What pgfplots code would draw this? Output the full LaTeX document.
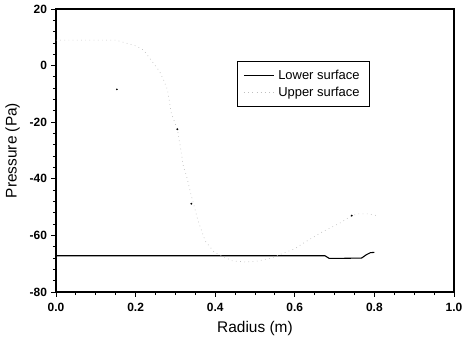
\documentclass[border=0pt]{standalone}
\usepackage{pgfplots}
\pgfplotsset{compat=1.18}
\usepackage{fontspec}
\setmainfont{Liberation Sans}
\begin{document}
\begin{tikzpicture}
\begin{axis}[
  at={(0,0)}, anchor=south west,
  scale only axis, width=398bp, height=283bp,
  xmin=0, xmax=1, ymin=-80, ymax=20,
  xtick={0,0.2,...,1.0}, ytick={-80,-60,...,20},
  minor x tick num=3, minor y tick num=4,
  tick align=outside, axis x line*=box, axis y line*=box,
  xtick pos=bottom, ytick pos=left,
  major tick length=4.5bp, minor tick length=3bp,
  every tick/.style={black, line width=0.9pt},
  axis line style={line width=1.2pt},
  /pgf/number format/assume math mode=true,
  xticklabel style={font=\bfseries\fontsize{12}{13}\selectfont, yshift=-3bp, /pgf/number format/.cd, fixed, fixed zerofill, precision=1},
  yticklabel style={font=\bfseries\fontsize{12}{13}\selectfont, xshift=-1bp},
  xlabel={Radius (m)}, ylabel={Pressure (Pa)},
  label style={font=\fontsize{15.5}{17}\selectfont},
  xlabel style={yshift=-3bp},
  ylabel style={yshift=3bp},
  legend style={at={(0.455,0.817)}, anchor=north west, draw=black, line width=0.7pt,
    font=\fontsize{13}{15}\selectfont, row sep=2pt, inner xsep=6pt, inner ysep=7pt,
    nodes={inner xsep=4pt}},
  legend cell align=left,
  legend image code/.code={\draw[#1] (0cm,0cm) -- (1.05cm,0cm);},
  clip=false,
]
\addplot[black, line width=1.1pt] coordinates {
(0,-67.2) (0.2,-67.2) (0.4,-67.2) (0.6,-67.2) (0.676,-67.2) (0.686,-68.1) (0.72,-68.1) (0.768,-68.0) (0.78,-66.8) (0.79,-66.1) (0.8,-66.0)
};
\addlegendentry{Lower surface}
\addplot[gray!50, line width=0.7pt, dash pattern=on 0.7pt off 3.5pt] coordinates {
(0.0,9) (0.07,9) (0.15,9) (0.2,7) (0.22,5.5) (0.26,-2) (0.27,-5) (0.28,-8.5) (0.29,-17) (0.305,-22.5) (0.315,-31) (0.32,-35.7) (0.327,-38.5) (0.34,-46) (0.357,-54.8) (0.375,-62) (0.398,-66) (0.443,-69) (0.477,-69.4) (0.51,-69) (0.54,-68) (0.6,-64.7) (0.63,-62) (0.67,-58.7) (0.715,-55.5) (0.743,-53) (0.76,-52.4) (0.785,-52.4) (0.805,-53)
};
\addlegendentry{Upper surface}
\addplot[only marks, mark=*, mark size=0.7pt, black, forget plot] coordinates {
(0.153,-8.4) (0.305,-22.5) (0.34,-48.8) (0.743,-53)
};
\end{axis}
\pgfresetboundingbox
\path[use as bounding box] (-56bp,-53bp) rectangle (407bp,292bp);
\end{tikzpicture}
\end{document}
